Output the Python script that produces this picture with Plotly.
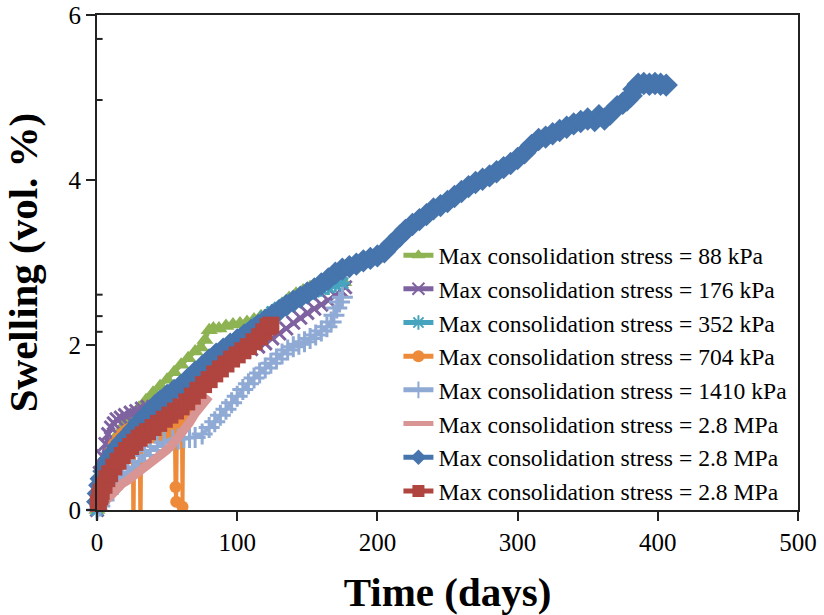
import plotly.graph_objects as go

# ---- measured swelling curves: time (days) / swelling (vol. %) ----
t_88 = [0, 1, 3, 6, 10, 15, 20, 25, 30, 35, 40, 45, 50, 55, 60, 65, 70, 74, 77, 80,
        83, 87, 92, 97, 102, 107, 112, 117, 122, 127, 132, 137, 142, 147, 152, 157,
        162, 167, 172, 176]
s_88 = [0.0, 0.15, 0.35, 0.55, 0.75, 0.92, 1.05, 1.15, 1.24, 1.33, 1.42, 1.50, 1.58,
        1.67, 1.76, 1.84, 1.92, 1.97, 2.06, 2.18, 2.20, 2.20, 2.23, 2.25, 2.26, 2.28,
        2.31, 2.35, 2.38, 2.42, 2.50, 2.57, 2.62, 2.66, 2.70, 2.72, 2.75, 2.77, 2.78,
        2.76]

t_176 = [0, 1, 2, 4, 6, 8, 10, 12, 14, 17, 20, 24, 28, 32, 36, 40, 45, 50, 55, 60, 65,
         70, 75, 80, 85, 90, 95, 100, 105, 110, 115, 120, 125, 130, 135, 140, 145, 150,
         155, 160, 165, 170, 174, 177]
s_176 = [0.0, 0.25, 0.45, 0.65, 0.80, 0.92, 1.00, 1.05, 1.10, 1.12, 1.15, 1.18, 1.20,
         1.23, 1.25, 1.25, 1.31, 1.37, 1.43, 1.49, 1.55, 1.61, 1.66, 1.71, 1.75, 1.79,
         1.84, 1.88, 1.92, 1.95, 1.98, 2.02, 2.08, 2.14, 2.20, 2.27, 2.33, 2.39, 2.44,
         2.49, 2.54, 2.60, 2.66, 2.70]

t_352 = [0, 2, 5, 10, 15, 20, 25, 30, 35, 40, 45, 50, 55, 60, 65, 70, 75, 80, 85, 90,
         95, 100, 105, 110, 115, 120, 125, 130, 135, 140, 145, 150, 155, 160, 165, 170,
         175]
s_352 = [0.0, 0.28, 0.45, 0.66, 0.75, 0.86, 0.97, 1.06, 1.15, 1.23, 1.31, 1.38, 1.44,
         1.50, 1.57, 1.65, 1.72, 1.80, 1.87, 1.94, 2.00, 2.06, 2.13, 2.20, 2.27, 2.34,
         2.40, 2.45, 2.50, 2.54, 2.58, 2.62, 2.65, 2.68, 2.70, 2.73, 2.75]

t_704 = [0, 1, 2, 4, 6, 9, 12, 15, 18, 21, 24, 25.5, 26, 26.5, 30.5, 31, 31.5, 35, 40,
         45, 50, 53, 55.5, 56, 56.5, 57, 60.5, 61, 61.5, 64, 67]
s_704 = [0.0, 0.20, 0.33, 0.48, 0.58, 0.70, 0.80, 0.87, 0.93, 0.97, 1.00, 1.00, -0.4,
         0.82, 0.84, -0.4, 0.84, 0.86, 0.88, 0.90, 0.93, 0.96, 1.00, 0.28, 0.10, 1.02,
         1.12, 0.04, 1.14, 1.20, 1.27]

t_1410 = [0, 2, 5, 8, 11, 14, 18, 22, 26, 30, 34, 38, 43, 48, 54, 58, 62, 66, 70, 75,
          80, 84, 88, 92, 96, 100, 104, 108, 112, 116, 120, 124, 128, 132, 136, 140,
          144, 148, 152, 156, 160, 164, 167, 169, 171, 173, 175]
s_1410 = [0.0, 0.05, 0.12, 0.20, 0.27, 0.33, 0.40, 0.46, 0.52, 0.59, 0.66, 0.72, 0.77,
          0.82, 0.85, 0.86, 0.88, 0.88, 0.88, 0.92, 1.00, 1.07, 1.15, 1.22, 1.30, 1.38,
          1.46, 1.53, 1.60, 1.66, 1.72, 1.78, 1.83, 1.89, 1.94, 1.98, 2.01, 2.04, 2.08,
          2.12, 2.17, 2.22, 2.28, 2.36, 2.45, 2.52, 2.58]

t_28a = [0, 3, 6, 10, 14, 18, 22, 26, 30, 34, 38, 42, 46, 50, 54, 58, 62, 66, 70, 74,
         78, 80]
s_28a = [0.0, 0.06, 0.12, 0.20, 0.27, 0.32, 0.36, 0.41, 0.46, 0.51, 0.55, 0.60, 0.66,
         0.73, 0.80, 0.88, 0.96, 1.06, 1.17, 1.27, 1.35, 1.38]

t_28b = [0, 0.5, 1, 2, 3, 5, 7, 9, 12, 15, 18, 22, 26, 30, 35, 40, 45, 50, 55, 60, 65,
         70, 75, 80, 85, 90, 95, 100, 105, 110, 115, 120, 125, 130, 135, 140, 145, 150,
         155, 160, 165, 170, 175, 180, 185, 190, 195, 200, 205, 210, 216, 220, 225, 230,
         235, 240, 245, 250, 255, 260, 265, 270, 275, 280, 285, 290, 295, 300, 305,
         310, 315, 320, 325, 330, 335, 340, 345, 350, 355, 358, 362, 366, 371, 375,
         378, 381, 383, 386, 390, 394, 398, 402, 406]
s_28b = [-0.03, 0.10, 0.20, 0.30, 0.38, 0.47, 0.55, 0.62, 0.70, 0.77, 0.83, 0.90, 0.98,
         1.06, 1.15, 1.24, 1.32, 1.39, 1.45, 1.51, 1.59, 1.67, 1.74, 1.82, 1.89, 1.95,
         2.01, 2.06, 2.12, 2.18, 2.24, 2.30, 2.36, 2.42, 2.48, 2.53, 2.58, 2.63, 2.68,
         2.74, 2.80, 2.87, 2.92, 2.95, 2.98, 3.02, 3.05, 3.08, 3.13, 3.22, 3.32, 3.39,
         3.46, 3.52, 3.58, 3.65, 3.69, 3.74, 3.80, 3.86, 3.92, 3.97, 4.01, 4.05, 4.10,
         4.15, 4.20, 4.26, 4.33, 4.42, 4.49, 4.52, 4.56, 4.60, 4.64, 4.68, 4.71, 4.74,
         4.72, 4.78, 4.74, 4.80, 4.89, 4.93, 4.97, 5.02, 5.10, 5.16, 5.17, 5.16, 5.17,
         5.16, 5.15]

t_28c = [0, 1, 2, 3, 5, 7, 9, 12, 15, 18, 21, 24, 27, 30, 33, 36, 40, 44, 48, 52, 56,
         60, 64, 68, 72, 76, 80, 84, 88, 92, 96, 100, 104, 108, 112, 116, 119, 122, 124]
s_28c = [-0.05, 0.08, 0.16, 0.22, 0.30, 0.38, 0.44, 0.52, 0.59, 0.66, 0.72, 0.77, 0.82,
         0.87, 0.91, 0.95, 1.00, 1.05, 1.10, 1.15, 1.20, 1.25, 1.31, 1.38, 1.45, 1.52,
         1.58, 1.65, 1.71, 1.77, 1.83, 1.88, 1.93, 1.98, 2.04, 2.10, 2.16, 2.22, 2.24]

names = [
    "Max consolidation stress = 88 kPa",
    "Max consolidation stress = 176 kPa",
    "Max consolidation stress = 352 kPa",
    "Max consolidation stress = 704 kPa",
    "Max consolidation stress = 1410 kPa",
    "Max consolidation stress = 2.8 MPa",
    "Max consolidation stress = 2.8 MPa",
    "Max consolidation stress = 2.8 MPa",
]
times = [t_88, t_176, t_352, t_704, t_1410, t_28a, t_28b, t_28c]
swell = [s_88, s_176, s_352, s_704, s_1410, s_28a, s_28b, s_28c]

# short inward marks on the left axis (swelling values)
inner_marks = [5.71, 4.97, 2.61, 2.35, 2.16]

colors = ["#8DB352", "#7F62A0", "#46A4BE", "#EE8B3A", "#8FAAD4", "#D89593", "#4674AD", "#B0443F"]
symbols = ["triangle-up", "x-thin", "asterisk", "circle", "cross-thin", None, "diamond", "square"]
msizes = [15, 13, 13, 12, 15, 0, 18, 17]

FONT = "Liberation Serif, Times New Roman, serif"

fig = go.Figure()
for i in range(len(names)):
    sym = symbols[i]
    if sym is None:
        fig.add_trace(go.Scatter(
            x=times[i], y=swell[i], name=names[i], mode="lines",
            line=dict(color=colors[i], width=9), cliponaxis=False))
    else:
        thin = sym in ("x-thin", "asterisk", "cross-thin")
        fig.add_trace(go.Scatter(
            x=times[i], y=swell[i], name=names[i], mode="lines+markers",
            line=dict(color=colors[i], width=4),
            marker=dict(symbol=sym, size=msizes[i], color=colors[i],
                        line=dict(color=colors[i], width=3 if thin else 0)),
            cliponaxis=(i == 3)))

shapes = []
for v in inner_marks:
    shapes.append(dict(type="line", xref="paper", yref="y", x0=0, x1=0.008, y0=v, y1=v,
                       line=dict(color="#222", width=2)))

axis_common = dict(
    showline=True, linewidth=2, linecolor="#222", mirror=True,
    ticks="outside", ticklen=9, tickwidth=2, tickcolor="#222",
    showgrid=False, zeroline=False, automargin=False,
    tickfont=dict(family=FONT, size=25, color="black"),
)

fig.update_layout(
    width=824, height=615, autosize=False,
    margin=dict(l=97, r=26, t=15, b=105),
    paper_bgcolor="white", plot_bgcolor="white",
    shapes=shapes,
    xaxis=dict(range=[0, 500], tickvals=[0, 100, 200, 300, 400, 500],
               title=dict(text="Time (days)", standoff=22,
                          font=dict(family=FONT, size=41, color="black", weight="bold")),
               **axis_common),
    yaxis=dict(range=[0, 6], tickvals=[0, 2, 4, 6],
               title=dict(text="Swelling (vol. %)", standoff=18,
                          font=dict(family=FONT, size=41, color="black", weight="bold")),
               **axis_common),
    legend=dict(x=0.43, y=0.559, xanchor="left", yanchor="top",
                bgcolor="rgba(0,0,0,0)", borderwidth=0, itemsizing="constant",
                font=dict(family=FONT, size=23.6, color="black")),
    showlegend=True,
)

fig.write_html("out.html")
